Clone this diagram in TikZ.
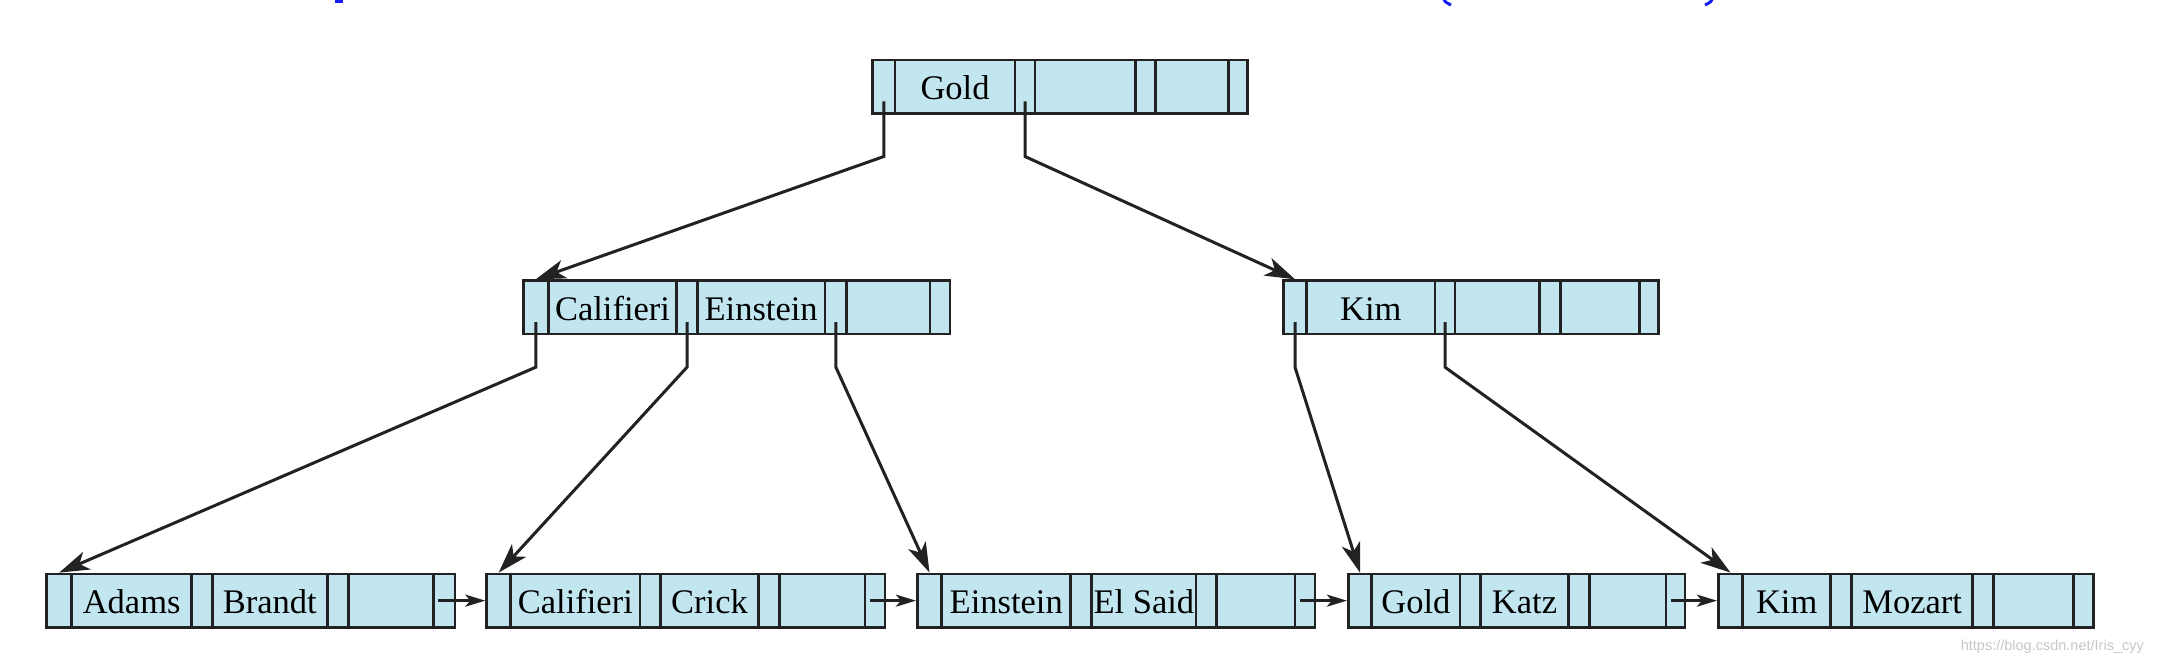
\documentclass[tikz,border=0pt]{standalone}
\usepackage{fontspec}
\setmainfont{Liberation Serif}
\newfontfamily\wmfont{Liberation Sans}
\usetikzlibrary{arrows.meta}
\definecolor{cellblue}{RGB}{194,230,240}
\definecolor{edgegray}{RGB}{34,34,34}
\definecolor{titleblue}{RGB}{20,30,245}
\tikzset{
  cellbox/.style={draw=edgegray, fill=cellblue, line width=2.8pt, minimum height=53.3pt,
    inner sep=0pt, text height=39.5pt, text depth=13.8pt, font=\fontsize{34.5}{40}\selectfont},
  ptr/.style={draw=edgegray, line width=3pt, -{Stealth[length=30pt,width=19pt,inset=8pt]}},
  link/.style={draw=edgegray, line width=2.8pt, -{Stealth[length=20pt,width=12pt,inset=5pt]}},
  wmark/.style={font=\wmfont\fontsize{14.5}{16}\selectfont, text=black!22, inner sep=0pt}
}
\newcommand\bcell[5]{%
  \pgfmathsetmacro\bcx{(#2+#3)/2}%
  \pgfmathsetmacro\bcw{#3-#2}%
  \pgfmathsetmacro\bcy{#4+26.65}%
  \node[cellbox, minimum width=\bcw pt] (#1) at (\bcx,\bcy) {#5};%
}
\def\bpsplit#1,#2,#3,#4,#5,#6,#7,#8\relax{%
  \def\xA{#1}\def\xB{#2}\def\xC{#3}\def\xD{#4}%
  \def\xE{#5}\def\xF{#6}\def\xG{#7}\def\xH{#8}}
\newcommand\bpnode[6]{%
  \bpsplit#3\relax
  \bcell{#1-p1}{\xA}{\xB}{#2}{}%
  \bcell{#1-k1}{\xB}{\xC}{#2}{#4}%
  \bcell{#1-p2}{\xC}{\xD}{#2}{}%
  \bcell{#1-k2}{\xD}{\xE}{#2}{#5}%
  \bcell{#1-p3}{\xE}{\xF}{#2}{}%
  \bcell{#1-k3}{\xF}{\xG}{#2}{#6}%
  \bcell{#1-p4}{\xG}{\xH}{#2}{}%
}
\begin{document}
\begin{tikzpicture}[x=1pt,y=-1pt]
  \path[use as bounding box, fill=white] (0,0) rectangle (2172,666);

  % cut-off title fragments
  \fill[titleblue] (335,-2) rectangle (343,3.5);
  \draw[titleblue, line width=3pt] (1443,-3) .. controls (1445,2) .. (1451,5);
  \draw[titleblue, line width=3pt] (1713,-3) .. controls (1711,2) .. (1705,5);

  % root
  \bpnode{r}{60}{872.7,895,1015,1035,1135.3,1155.7,1228.3,1247.3}{Gold}{}{}
  % internal level
  \bpnode{c}{280.7}{523.3,548.3,676.7,697.3,825,846.7,930,950}{Califieri}{Einstein}{}
  \bpnode{k}{280.7}{1283.3,1306.7,1435,1455,1539.3,1560.7,1639.3,1658.3}{Kim}{}{}
  % leaves
  \bpnode{l1}{574}{46.7,71.7,191.7,212.3,327.3,348.3,433.3,455}{Adams}{Brandt}{}
  \bpnode{l2}{574}{486.7,510.7,640,660.7,758.3,779.3,865,885}{Califieri}{Crick}{}
  \bpnode{l3}{574}{917.3,941.7,1070.7,1091.7,1196,1216.7,1295,1315}{Einstein}{El Said}{}
  \bpnode{l4}{574}{1348.3,1371.7,1460,1480.7,1568.3,1589.3,1666,1685}{Gold}{Katz}{}
  \bpnode{l5}{574}{1718.3,1742.7,1830.7,1851.7,1972.7,1993.3,2073.3,2093.3}{Kim}{Mozart}{}

  % root pointers
  \draw[ptr] ([yshift=-14.85pt]r-p1.center) -- ++(0,55) -- (c-p1.north);
  \draw[ptr] ([yshift=-14.85pt]r-p2.center) -- ++(0,55) -- (k-p1.north);
  % internal pointers
  \draw[ptr] ([yshift=-14.85pt]c-p1.center) -- ++(0,45) -- (l1-p1.north);
  \draw[ptr] ([yshift=-14.85pt]c-p2.center) -- ++(0,45) -- (l2-p1.north);
  \draw[ptr] ([yshift=-14.85pt]c-p3.center) -- ++(0,45) -- (l3-p1.north);
  \draw[ptr] ([yshift=-14.85pt]k-p1.center) -- ++(0,45) -- (l4-p1.north);
  \draw[ptr] ([yshift=-14.85pt]k-p2.center) -- ++(0,45) -- (l5-p1.north);
  % leaf chain
  \draw[link] ([xshift=6.5pt]l1-p4.west) -- (l2-p1.west);
  \draw[link] ([xshift=6.5pt]l2-p4.west) -- (l3-p1.west);
  \draw[link] ([xshift=6.5pt]l3-p4.west) -- (l4-p1.west);
  \draw[link] ([xshift=6.5pt]l4-p4.west) -- (l5-p1.west);

  \node[wmark, anchor=east] (wm) at (2144,647) {https://blog.csdn.net/Iris\_cyy};
\end{tikzpicture}
\end{document}
